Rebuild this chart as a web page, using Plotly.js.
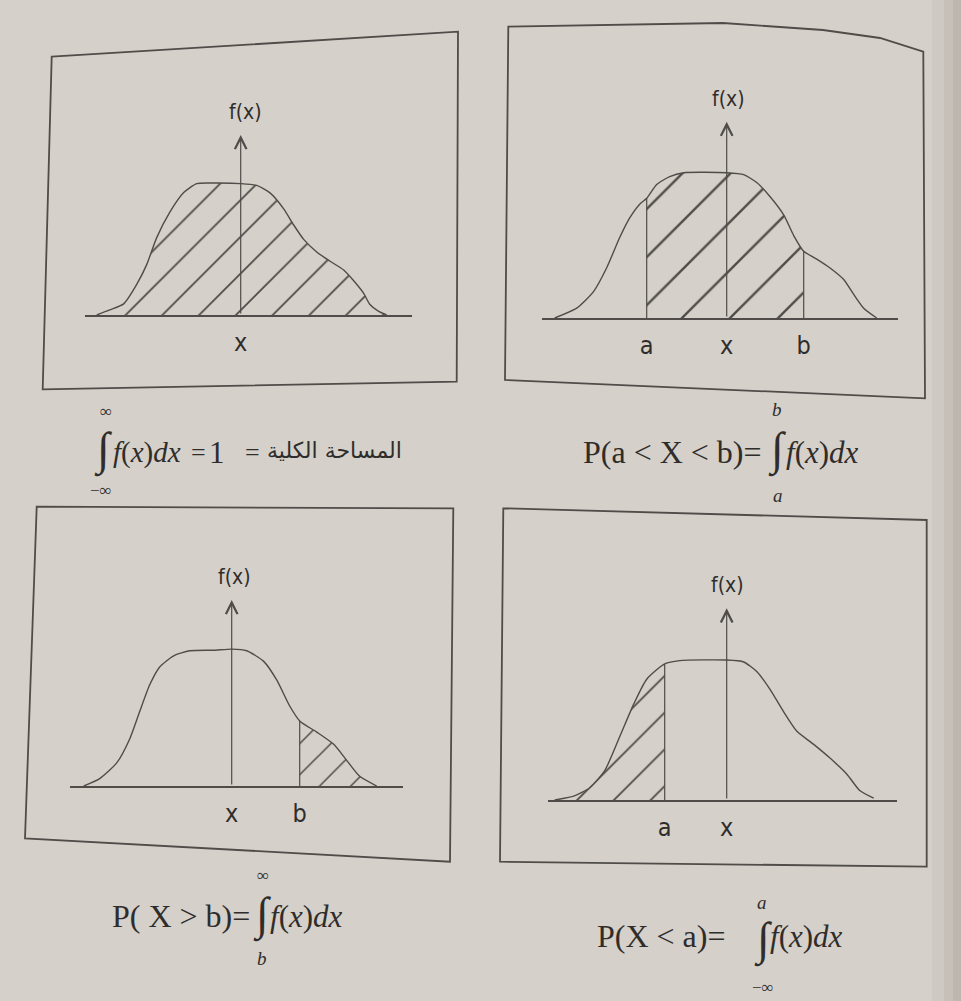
<!DOCTYPE html>
<html>
<head>
<meta charset="utf-8">
<script src="https://cdn.plot.ly/plotly-3.0.1.min.js"></script>
<style>
  html, body { margin: 0; padding: 0; background: #d5d0c9; }
  #chart { width: 961px; height: 1001px; }
</style>
</head>
<body>
<div id="chart"></div>
<script>
// density curves (x: 0 = the f(x) axis, y: share of axis height)
const tlX = [-14.4, -13.1, -11.7, -10.4, -9.4, -8.4, -7.1, -5.7, -4.4, -2.4, 0, 1.6, 2.9, 4.3, 5.3, 6.3, 7.6, 8.9, 10.3, 11.3, 12.3, 12.9, 13.8, 14.6];
const tlY = [0, 0.028, 0.062, 0.17, 0.28, 0.43, 0.57, 0.68, 0.73, 0.733, 0.73, 0.72, 0.68, 0.59, 0.50, 0.42, 0.35, 0.30, 0.25, 0.19, 0.12, 0.06, 0.02, 0];

const trX = [-17.2, -15.0, -13.3, -12.0, -10.7, -9.7, -8.7, -8.0, -7.0, -5.7, -4.3, 0, 1.7, 3.0, 4.3, 5.7, 6.7, 7.7, 9.0, 10.3, 11.7, 12.7, 13.7, 15.0];
const trY = [0, 0.05, 0.136, 0.256, 0.41, 0.51, 0.58, 0.61, 0.68, 0.72, 0.74, 0.74, 0.73, 0.69, 0.62, 0.525, 0.42, 0.34, 0.30, 0.256, 0.196, 0.12, 0.05, 0];

const blX = [-14.8, -13.2, -11.5, -10.2, -9.2, -8.2, -7.2, -5.8, -4.2, -1.8, 0, 1.5, 3.2, 4.5, 5.8, 6.8, 8.5, 10.2, 11.5, 12.8, 14.5];
const blY = [0, 0.04, 0.124, 0.253, 0.40, 0.544, 0.64, 0.70, 0.727, 0.73, 0.736, 0.727, 0.67, 0.57, 0.43, 0.35, 0.29, 0.224, 0.138, 0.052, 0];

const brX = [-17.2, -15.3, -13.7, -12.2, -10.7, -9.3, -8.0, -6.2, -4.7, 0, 1.7, 3.0, 4.3, 5.7, 7.0, 8.7, 10.3, 12.0, 13.3, 14.7];
const brY = [0, 0.02, 0.064, 0.153, 0.33, 0.50, 0.63, 0.71, 0.727, 0.73, 0.72, 0.67, 0.58, 0.46, 0.36, 0.29, 0.22, 0.136, 0.05, 0.01];

// the marked points a and b on each axis
const trA = -8.0, trB = 7.7;
const blB = 6.8;
const brA = -6.2;

const W = 961, H = 1001;
const px = v => v / W;
const py = v => 1 - v / H;

const ink = '#4f4c49';
const textInk = '#2f2d2b';
const sans = '"Liberation Sans Narrow", "DejaVu Sans Condensed", "Liberation Sans", sans-serif';
const serif = '"Liberation Serif", "DejaVu Serif", serif';

function panelTraces(n, xs, ys, lo, hi, hatch) {
  const xa = n === 1 ? 'x' : 'x' + n;
  const ya = n === 1 ? 'y' : 'y' + n;
  const inX = [], inY = [];
  xs.forEach((x, i) => {
    if (x >= lo && x <= hi) { inX.push(x); inY.push(ys[i]); }
  });
  const out = [
    {x: inX, y: inY, xaxis: xa, yaxis: ya, type: 'scatter', mode: 'lines',
     line: {width: 0, shape: 'spline', smoothing: 0.6},
     fill: 'tozeroy', fillcolor: 'rgba(0,0,0,0)',
     fillpattern: {shape: '/', size: hatch, solidity: 0.07, fgcolor: ink, bgcolor: 'rgba(0,0,0,0)'},
     hoverinfo: 'skip'},
    {x: xs, y: ys, xaxis: xa, yaxis: ya, type: 'scatter', mode: 'lines',
     line: {color: ink, width: 1.4, shape: 'spline', smoothing: 0.6}, hoverinfo: 'skip'}
  ];
  [lo, hi].forEach(edge => {
    const i = xs.indexOf(edge);
    if (i >= 0) {
      out.push({x: [edge, edge], y: [0, ys[i]], xaxis: xa, yaxis: ya, type: 'scatter', mode: 'lines',
                line: {color: ink, width: 1.2}, hoverinfo: 'skip'});
    }
  });
  return out;
}

const data = [
  ...panelTraces(1, tlX, tlY, -Infinity, Infinity, 26),
  ...panelTraces(2, trX, trY, trA, trB, 34),
  ...panelTraces(3, blX, blY, blB, Infinity, 22),
  ...panelTraces(4, brX, brY, -Infinity, brA, 26)
];

function xAxis(n, left, right, range, vals, text) {
  return {
    domain: [px(left), px(right)], range: range, anchor: n === 1 ? 'y' : 'y' + n,
    showgrid: false, zeroline: false, showline: true, linecolor: ink, linewidth: 1.6,
    ticks: '', tickvals: vals, ticktext: text, ticklabelstandoff: 4,
    tickfont: {family: sans, size: 25, color: textInk}, fixedrange: true
  };
}
function yAxis(n, base, tip) {
  return {domain: [py(base), py(tip)], range: [0, 1], anchor: n === 1 ? 'x' : 'x' + n,
          visible: false, fixedrange: true};
}

function fAxis(n, xshift) {
  const xr = n === 1 ? 'x' : 'x' + n;
  const yr = n === 1 ? 'y' : 'y' + n;
  return [
    {xref: xr, yref: yr, axref: xr, ayref: yr, x: 0, y: 1, ax: 0, ay: 0, text: '',
     showarrow: true, arrowhead: 5, arrowsize: 1.9, arrowwidth: 1.2, arrowcolor: ink},
    {xref: xr, yref: yr, x: 0, y: 1, text: 'f(x)', showarrow: false, yanchor: 'bottom', yshift: 9, xshift: xshift,
     font: {family: sans, size: 21, color: textInk}}
  ];
}

function txt(x, y, text, size, extra) {
  return Object.assign({xref: 'paper', yref: 'paper', x: px(x), y: py(y), text: text, showarrow: false,
    xanchor: 'left', yanchor: 'middle', font: {family: serif, size: size, color: textInk}}, extra || {});
}
const fx = '<i>f</i>(<i>x</i>)<i>dx</i>';

const formulas = [
  // top left
  txt(103, 450, '∫', 46, {xanchor: 'center'}),
  txt(106, 411, '∞', 17, {xanchor: 'center'}),
  txt(101, 490, '−∞', 17, {xanchor: 'center'}),
  txt(111, 452, fx, 29),
  txt(198, 452, '=', 26, {xanchor: 'center'}),
  txt(217, 452, '1', 31, {xanchor: 'center'}),
  txt(252, 452, '=', 26, {xanchor: 'center'}),
  txt(404, 450, 'المساحة الكلية', 22, {xanchor: 'right', font: {family: '"DejaVu Sans", sans-serif', size: 22, color: textInk}}),
  // top right
  txt(581, 452, 'P(a &lt; X &lt; b)=', 32),
  txt(777, 450, '∫', 46, {xanchor: 'center'}),
  txt(777, 409, '<i>b</i>', 19, {xanchor: 'center'}),
  txt(778, 495, '<i>a</i>', 19, {xanchor: 'center'}),
  txt(784, 452, fx, 31),
  // bottom left
  txt(110, 916, 'P( X &gt; b)=', 32),
  txt(262, 915, '∫', 46, {xanchor: 'center'}),
  txt(263, 875, '∞', 17, {xanchor: 'center'}),
  txt(262, 958, '<i>b</i>', 19, {xanchor: 'center'}),
  txt(268, 916, fx, 31),
  // bottom right
  txt(595, 936, 'P(X &lt; a)=', 32),
  txt(763, 940, '∫', 46, {xanchor: 'center'}),
  txt(762, 902, '<i>a</i>', 19, {xanchor: 'center'}),
  txt(763, 987, '−∞', 17, {xanchor: 'center'}),
  txt(768, 936, fx, 31)
];

function frame(points) {
  return {type: 'path', xref: 'paper', yref: 'paper', line: {color: ink, width: 1.8},
          path: 'M' + points.map(p => px(p[0]) + ',' + py(p[1])).join('L') + 'Z'};
}

const layout = {
  width: W, height: H,
  margin: {l: 0, r: 0, t: 0, b: 0},
  paper_bgcolor: '#d5d0c9', plot_bgcolor: 'rgba(0,0,0,0)',
  showlegend: false,
  xaxis: xAxis(1, 85, 412, [-15.57, 17.13], [0], ['x']),
  yaxis: yAxis(1, 315, 135),
  xaxis2: xAxis(2, 541.7, 898, [-18.5, 17.13], [trA, 0, trB], ['a', 'x', 'b']),
  yaxis2: yAxis(2, 318, 121.7),
  xaxis3: xAxis(3, 70, 403.3, [-16.17, 17.16], [0, blB], ['x', 'b']),
  yaxis3: yAxis(3, 786, 600),
  xaxis4: xAxis(4, 548.3, 896.7, [-17.84, 17.0], [brA, 0], ['a', 'x']),
  yaxis4: yAxis(4, 800, 608.3),
  shapes: [
    {type: 'rect', xref: 'paper', yref: 'paper', x0: px(932), x1: 1, y0: 0, y1: 1, line: {width: 0}, fillcolor: 'rgba(120,112,104,0.07)', layer: 'below'},
    {type: 'rect', xref: 'paper', yref: 'paper', x0: px(944), x1: 1, y0: 0, y1: 1, line: {width: 0}, fillcolor: 'rgba(120,112,104,0.09)', layer: 'below'},
    {type: 'rect', xref: 'paper', yref: 'paper', x0: px(953), x1: 1, y0: 0, y1: 1, line: {width: 0}, fillcolor: 'rgba(120,112,104,0.10)', layer: 'below'},
    frame([[51.7, 56.7], [458, 31.7], [456.7, 381.7], [42.7, 389.3]]),
    frame([[508.3, 26.7], [723, 23], [823, 30], [880, 38], [923.3, 51.7], [925, 398.3], [505, 380]]),
    frame([[36.7, 506.7], [453.3, 508.3], [450, 861.7], [25, 838.3]]),
    frame([[503.3, 508.3], [926.7, 520], [926.7, 866.7], [500, 861.7]])
  ],
  annotations: [...fAxis(1, 5), ...fAxis(2, 2), ...fAxis(3, 3), ...fAxis(4, 1), ...formulas]
};

Plotly.newPlot('chart', data, layout, {staticPlot: true});
</script>
</body>
</html>
